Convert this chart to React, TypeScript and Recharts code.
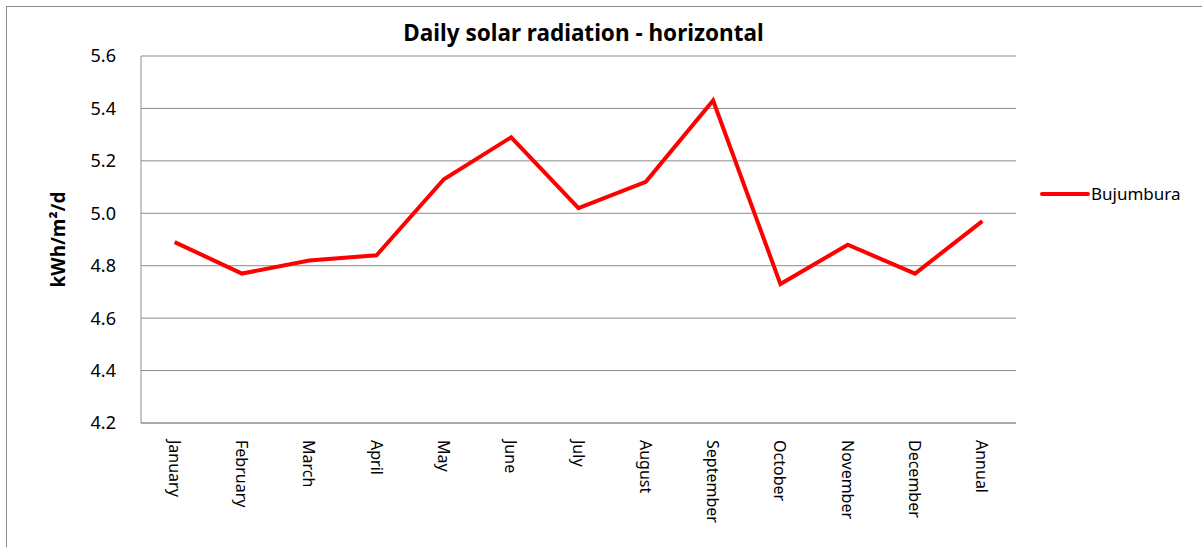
import { LineChart, Line, XAxis, YAxis, CartesianGrid, Legend } from "recharts";

const months = [
  "January",
  "February",
  "March",
  "April",
  "May",
  "June",
  "July",
  "August",
  "September",
  "October",
  "November",
  "December",
  "Annual",
];
const bujumbura = [4.89, 4.77, 4.82, 4.84, 5.13, 5.29, 5.02, 5.12, 5.43, 4.73, 4.88, 4.77, 4.97];
const yTicks = [4.2, 4.4, 4.6, 4.8, 5.0, 5.2, 5.4, 5.6];
const seriesName = "Bujumbura";
const chartTitle = "Daily solar radiation - horizontal";
const yLabel = "kWh/m²/d";

const data = months.map((m, i) => ({ month: m, value: bujumbura[i] }));

const FONT = "'Noto Sans', sans-serif";
const GRID = "#8c8c8c";

function MonthTick(props: any) {
  const { x, y, payload } = props;
  return (
    <text
      x={x}
      y={y}
      transform={`rotate(90 ${x} ${y})`}
      textAnchor="start"
      dominantBaseline="central"
      fontSize={16}
      fontFamily={FONT}
      fill="#000"
    >
      {payload.value}
    </text>
  );
}

function YTitle(props: any) {
  const { viewBox } = props;
  const cx = viewBox.x - 23;
  const cy = viewBox.y + viewBox.height / 2;
  return (
    <text
      x={cx}
      y={cy}
      transform={`rotate(-90 ${cx} ${cy})`}
      textAnchor="middle"
      dominantBaseline="central"
      fontSize={19}
      fontWeight="bold"
      fontFamily={FONT}
      fill="#000"
    >
      {yLabel}
    </text>
  );
}

const renderLegend = () => (
  <div style={{ display: "flex", alignItems: "center", fontFamily: FONT, fontSize: 17, color: "#000" }}>
    <svg width={52} height={8}>
      <line x1={3} y1={4} x2={49} y2={4} stroke="#ff0000" strokeWidth={4} strokeLinecap="round" />
    </svg>
    <span>{seriesName}</span>
  </div>
);

export default function App() {
  return (
    <div
      style={{
        position: "absolute",
        left: 0,
        top: 0,
        width: 1202,
        height: 547,
        overflow: "hidden",
        background: "#fff",
      }}
    >
      <div
        style={{
          position: "absolute",
          left: 6,
          top: 6,
          width: 1220,
          height: 580,
          border: `1px solid ${GRID}`,
        }}
      />
      <div
        style={{
          position: "absolute",
          left: 0,
          top: 17,
          width: 1167,
          textAlign: "center",
          fontFamily: FONT,
          fontWeight: "bold",
          fontSize: 22.5,
          color: "#000",
        }}
      >
        {chartTitle}
      </div>
      <div style={{ position: "absolute", left: 0, top: 0 }}>
        <LineChart
          width={1202}
          height={547}
          data={data}
          margin={{ top: 56, right: 186, left: 81, bottom: 14 }}
        >
          <CartesianGrid vertical={false} stroke={GRID} strokeWidth={1} />
          <XAxis
            dataKey="month"
            height={110}
            padding={{ left: 33.65, right: 33.65 }}
            axisLine={{ stroke: GRID }}
            tickLine={false}
            tickSize={0}
            tickMargin={17}
            interval={0}
            tick={<MonthTick />}
          />
          <YAxis
            width={60}
            domain={[4.2, 5.6]}
            ticks={yTicks}
            tickFormatter={(v: number) => v.toFixed(1)}
            axisLine={{ stroke: GRID }}
            tickLine={false}
            tickSize={0}
            tickMargin={25}
            tick={{ fontSize: 18, fontFamily: FONT, fill: "#000" }}
            label={<YTitle />}
          />
          <Legend
            layout="horizontal"
            verticalAlign="middle"
            align="center"
            content={renderLegend}
            wrapperStyle={{ left: 1039, top: 182, width: 160 }}
          />
          <Line
            type="linear"
            dataKey="value"
            name={seriesName}
            stroke="#ff0000"
            strokeWidth={4}
            dot={false}
            activeDot={false}
            isAnimationActive={false}
          />
        </LineChart>
      </div>
    </div>
  );
}
